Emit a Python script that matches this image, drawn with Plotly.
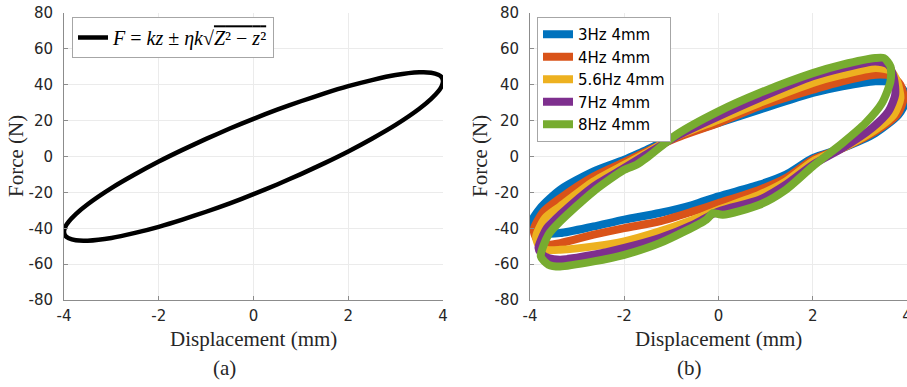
import plotly.graph_objects as go

# ---------------- data ----------------
# (a) model loop  F = kz ± ηk·sqrt(Z²−z²)
model_z = [-4, -3.97, -3.9, -3.75, -3.5, -3, -2.5, -2, -1.5, -1, -0.5, 0, 0.5, 1, 1.5, 2, 2.5, 3, 3.5, 3.75, 3.9, 3.97, 4,
           3.97, 3.9, 3.75, 3.5, 3, 2.5, 2, 1.5, 1, 0.5, 0, -0.5, -1, -1.5, -2, -2.5, -3, -3.5, -3.75, -3.9, -3.97, -4]
model_f = [-42, -39.1, -36.3, -32.1, -26.6, -17.6, -9.9, -2.8, 3.7, 9.8, 15.6, 21, 26.1, 30.8, 35.2, 39.2, 42.6, 45.4, 46.9, 46.7, 45.6, 44.3, 42,
           39.1, 36.3, 32.1, 26.6, 17.6, 9.9, 2.8, -3.7, -9.8, -15.6, -21, -26.1, -30.8, -35.2, -39.2, -42.6, -45.4, -46.9, -46.7, -45.6, -44.3, -42]

# (b) measured loops
series_names = ["3Hz 4mm", "4Hz 4mm", "5.6Hz 4mm", "7Hz 4mm", "8Hz 4mm"]

d3_x = [-4.0, -3.78, -3.36, -2.65, -2.0, -1.6, -0.9, 0, 0.87, 2.0, 2.63, 3.33, 3.68, 3.89, 4.0,
        3.82, 3.33, 2.63, 2.0, 1.43, 0.87, 0, -0.54, -1.25, -2.0, -2.65, -3.36, -3.71, -3.92, -4.0]
d3_f = [-38, -28.7, -18.5, -8.3, -1.8, 2.9, 11.2, 18.7, 26.1, 35.4, 39.1, 41.9, 41.5, 38.2, 32.6,
        23.3, 13.1, 4.7, -0.9, -10.1, -15.7, -22.2, -26.9, -31.5, -35.2, -39, -42.7, -42.7, -39.9, -38]

d4_x = [-3.92, -3.71, -3.36, -2.65, -2.0, -1.6, -0.9, 0, 0.87, 2.0, 2.63, 3.33, 3.68, 3.86, 3.93,
        3.79, 3.33, 2.63, 2.0, 1.43, 0.87, 0, -0.54, -1.25, -2.0, -2.65, -3.36, -3.64, -3.85, -3.92]
d4_f = [-40.8, -30.6, -23.2, -11.1, -3.1, 1.9, 10.3, 18.7, 28, 37.2, 41.9, 45.6, 44.7, 40, 32.6,
        23.3, 14, 4.7, -1.8, -12, -18.5, -26, -30.6, -36.2, -39.9, -43.6, -48.3, -49.2, -46.4, -40.8]

d56_x = [-3.87, -3.68, -3.36, -2.65, -2.0, -1.6, -0.9, 0, 0.87, 2.0, 2.63, 3.33, 3.65, 3.79, 3.86,
         3.72, 3.33, 2.63, 2.0, 1.43, 0.87, 0, -0.54, -1.25, -2.0, -2.65, -3.36, -3.64, -3.82, -3.87]
d56_f = [-44.5, -34.3, -27.8, -13.9, -4.6, 1.0, 11.2, 20.5, 29.8, 41, 45.6, 49.3, 47.8, 41.9, 32.6,
         23.3, 14.9, 4.7, -2.7, -13.9, -21.3, -29.7, -35.2, -41.7, -47.3, -50.1, -52, -52, -49.2, -44.5]

d7_x = [-3.82, -3.64, -3.36, -2.65, -2.0, -1.6, -0.9, 0, 0.87, 2.0, 2.63, 3.33, 3.6, 3.72, 3.75,
        3.61, 3.26, 2.63, 2.0, 1.43, 0.87, 0, -0.54, -1.25, -2.0, -2.65, -3.36, -3.61, -3.77, -3.82]
d7_f = [-51, -39.9, -32.5, -16.7, -6.4, 0, 11.2, 22.4, 32.6, 44.7, 49.3, 53, 51.2, 43.8, 34.5,
        25.2, 15.9, 4.7, -4.6, -15.7, -24.1, -30.6, -38, -45.5, -51, -54.8, -57.5, -56.6, -53.8, -51]

d8_x = [-3.77, -3.61, -3.36, -2.65, -2.0, -1.74, -1.53, -0.9, 0, 0.87, 2.0, 2.63, 3.33, 3.51, 3.65, 3.65,
        3.47, 3.12, 2.63, 2.0, 1.43, 0.87, 0.09, -0.12, -0.26, -1.25, -2.0, -2.65, -3.36, -3.61, -3.77]
d8_f = [-55.7, -43.6, -36.2, -19.4, -7.4, -4.6, -0.9, 12.1, 25.2, 35.4, 46.5, 51.2, 54.9, 54.9, 50.2, 41.9,
        29.8, 18.7, 7.5, -5.5, -18.5, -26.9, -32.5, -31.6, -35.2, -48.3, -54.8, -58.5, -61.3, -60.3, -55.7]

series_x = [d3_x, d4_x, d56_x, d7_x, d8_x]
series_f = [d3_f, d4_f, d56_f, d7_f, d8_f]
colors = ["#0072BD", "#D95319", "#EDB120", "#7E2F8E", "#77AC30"]

x_ticks = [-4, -2, 0, 2, 4]
x_tick_labels = ["-4", "-2", "0", "2", "4"]
y_ticks = [-80, -60, -40, -20, 0, 20, 40, 60, 80]
y_tick_labels = ["-80", "-60", "-40", "-20", "0", "20", "40", "60", "80"]

# ---------------- figure ----------------
fig = go.Figure()

legend_text = ("<i>F</i> = <i>kz</i> ± <i>ηk</i>√<span style='text-decoration:overline'>"
               "<i>Z</i>² − <i>z</i>²</span>")
fig.add_trace(go.Scatter(x=model_z, y=model_f, mode="lines", name=legend_text,
                         line=dict(color="black", width=4.5, shape="spline", smoothing=0.6),
                         xaxis="x", yaxis="y", legend="legend"))

for nm, xs, fs, c in zip(series_names, series_x, series_f, colors):
    fig.add_trace(go.Scatter(x=xs, y=fs, mode="lines", name=nm,
                             line=dict(color=c, width=8, shape="spline", smoothing=0.7),
                             xaxis="x2", yaxis="y2", legend="legend2"))

W, H = 907, 387
def px(v): return v / W
def py(v): return 1 - v / H

sans = "DejaVu Sans, Arial, sans-serif"
serif = "Liberation Serif, Times New Roman, serif"
tickfont = dict(family=sans, size=15, color="#262626")
axis_common = dict(range=[-4, 4], tickvals=x_ticks, ticktext=x_tick_labels, ticks="inside", ticklen=4,
                   tickcolor="#8c8c8c", showline=True, linecolor="#8c8c8c", linewidth=1,
                   showgrid=True, gridcolor="#ebebeb", zeroline=False, tickfont=tickfont,
                   mirror=False, automargin=False, ticklabelstandoff=2, ticklabeloverflow="allow")
yaxis_common = dict(range=[-80, 80], tickvals=y_ticks, ticktext=y_tick_labels, ticks="inside", ticklen=4,
                    tickcolor="#8c8c8c", showline=True, linecolor="#8c8c8c", linewidth=1,
                    showgrid=True, gridcolor="#ebebeb", zeroline=False, tickfont=tickfont,
                    ticklabelstandoff=7, automargin=False)

def note(text, x, y, angle=0):
    return dict(text=text, x=px(x), y=py(y), xref="paper", yref="paper", xanchor="center",
                yanchor="middle", textangle=angle, showarrow=False,
                font=dict(family=serif, size=21, color="#262626"))

fig.update_layout(
    width=W, height=H, margin=dict(l=0, r=0, t=0, b=0, autoexpand=False),
    paper_bgcolor="white", plot_bgcolor="white",
    xaxis=dict(domain=[px(64), px(443)], anchor="y", **axis_common),
    yaxis=dict(domain=[py(300), py(13)], anchor="x", **yaxis_common),
    xaxis2=dict(domain=[px(530), 1.0], anchor="y2", **axis_common),
    yaxis2=dict(domain=[py(300), py(13)], anchor="x2", **yaxis_common),
    legend=dict(x=px(72), y=py(17), xanchor="left", yanchor="top", bgcolor="white",
                bordercolor="#a6a6a6", borderwidth=1,
                font=dict(family=serif, size=20, color="black"), itemwidth=30,
                tracegroupgap=0),
    legend2=dict(x=px(537), y=py(17), xanchor="left", yanchor="top", bgcolor="white",
                 bordercolor="#a6a6a6", borderwidth=1,
                 font=dict(family=sans, size=15, color="black"),
                 itemwidth=30, tracegroupgap=0),
    showlegend=True,
    annotations=[
        note("Displacement (mm)", 253, 339),
        note("Displacement (mm)", 718, 339),
        note("Force (N)", 16, 156, -90),
        note("Force (N)", 480, 156, -90),
        note("(a)", 224, 368),
        note("(b)", 689, 368),
    ],
)

fig.write_html("out.html", config={"displayModeBar": False},
               post_script="document.body.style.margin='0px';")
